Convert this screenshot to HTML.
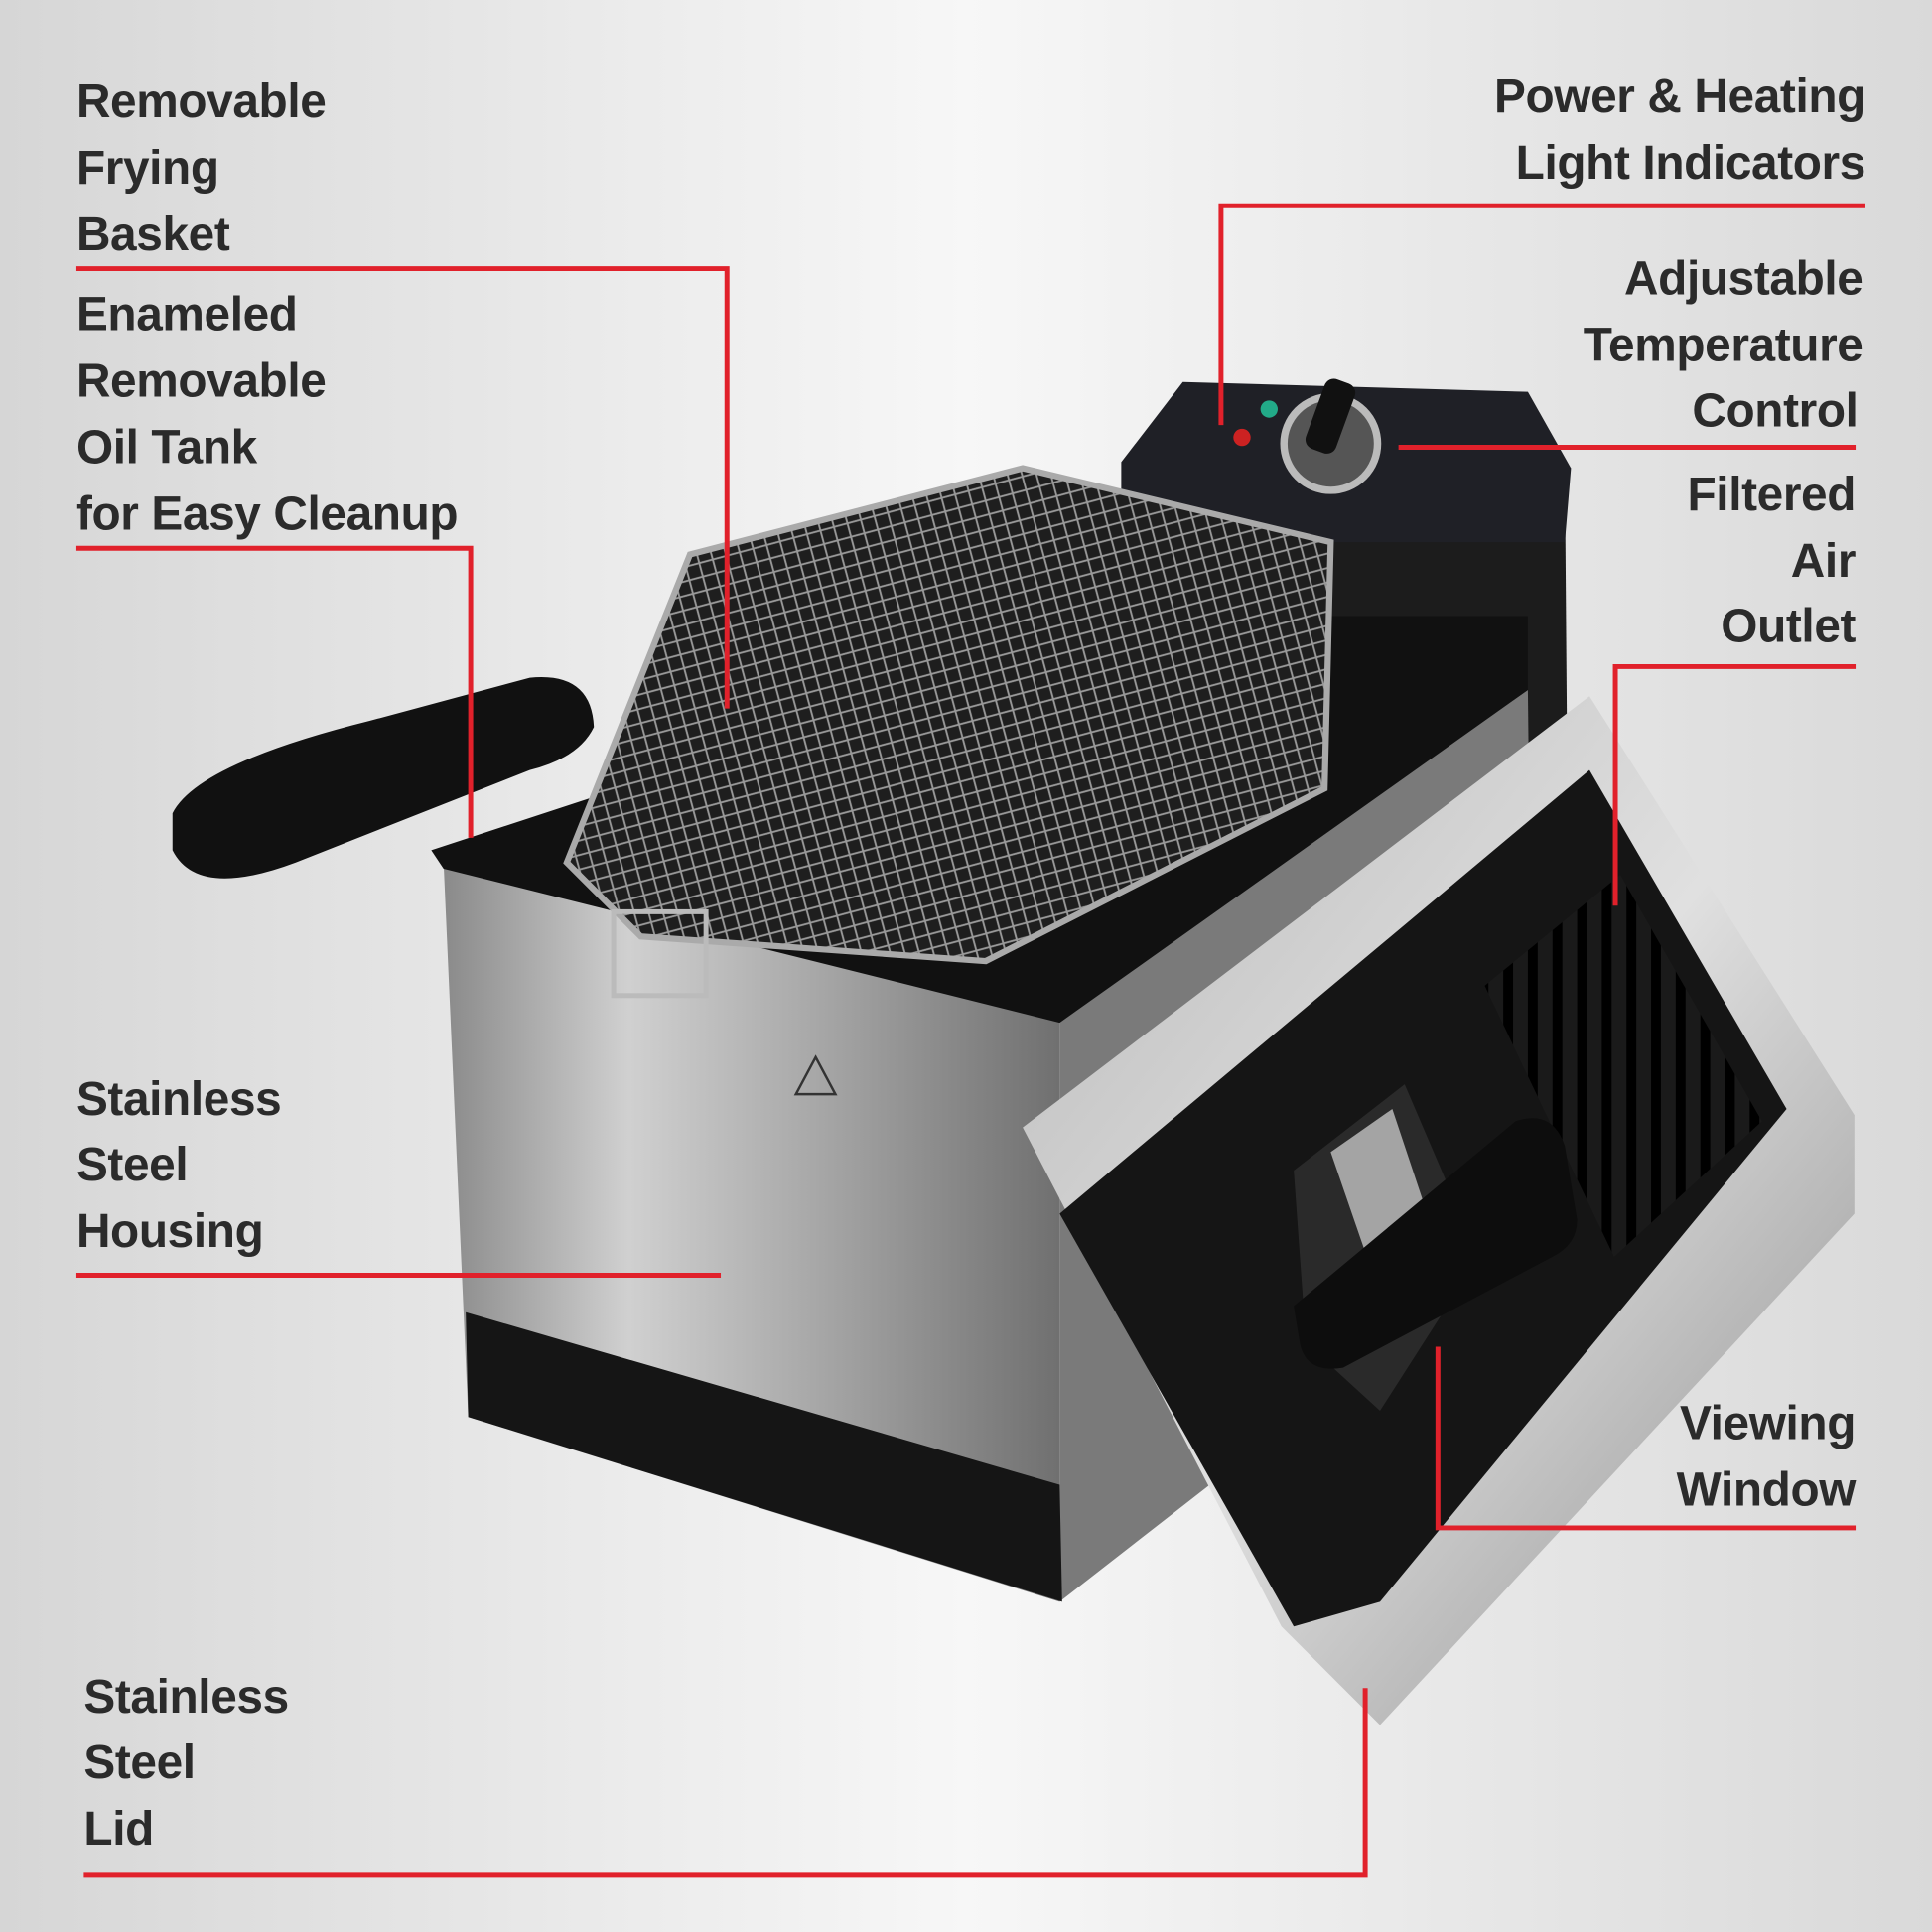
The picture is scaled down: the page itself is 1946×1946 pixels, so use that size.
<!DOCTYPE html>
<html><head><meta charset="utf-8">
<style>
html,body{margin:0;padding:0;width:1946px;height:1946px;overflow:hidden;background:#e6e6e6}
svg{display:block}
text{font-family:"Liberation Sans",sans-serif;font-weight:bold;font-size:38.5px;letter-spacing:-0.3px;fill:#2b2b2b}
</style></head><body>
<svg width="1946" height="1946" viewBox="0 0 1568 1568" xmlns="http://www.w3.org/2000/svg">
<defs>
<linearGradient id="bg" x1="0" y1="0" x2="1" y2="0">
<stop offset="0" stop-color="#d6d6d6"/><stop offset="0.5" stop-color="#f7f7f7"/><stop offset="1" stop-color="#d9d9d9"/>
</linearGradient>
<linearGradient id="steel" x1="0" y1="0" x2="1" y2="0">
<stop offset="0" stop-color="#8a8a8a"/><stop offset="0.3" stop-color="#d0d0d0"/><stop offset="0.6" stop-color="#a8a8a8"/><stop offset="1" stop-color="#707070"/>
</linearGradient>
<linearGradient id="steel2" x1="0" y1="0" x2="1" y2="1">
<stop offset="0" stop-color="#b8b8b8"/><stop offset="0.5" stop-color="#e0e0e0"/><stop offset="1" stop-color="#8c8c8c"/>
</linearGradient>
<pattern id="mesh" width="16" height="16" patternUnits="userSpaceOnUse" patternTransform="rotate(30)">
<rect width="16" height="16" fill="#1e1e1e"/>
<path d="M0 0L16 16M16 0L0 16" stroke="#999" stroke-width="1.5"/>
</pattern>
<pattern id="vent" width="20" height="10" patternUnits="userSpaceOnUse">
<rect width="20" height="10" fill="#1a1a1a"/><rect x="0" width="8" height="10" fill="#000"/>
</pattern>
</defs>
<rect width="1568" height="1568" fill="url(#bg)"/>

<polygon points="1080,440 1270,380 1275,1010 1000,1130" fill="#1c1c1c"/>
<polygon points="860,820 1240,560 1245,1000 860,1300" fill="#7a7a7a"/>
<polygon points="360,700 860,820 860,1300 380,1150" fill="url(#steel)"/>
<polygon points="378,1065 860,1205 862,1300 380,1150" fill="#151515"/>
<polygon points="350,690 930,500 1240,500 1240,560 860,830 360,705" fill="#111"/>
<polygon points="910,375 960,310 1240,318 1275,380 1270,440 1080,440 910,440" fill="#1f2026"/>
<circle cx="1080" cy="360" r="38" fill="#555" stroke="#bbb" stroke-width="6"/>
<rect x="1066" y="308" width="26" height="60" rx="8" fill="#111" transform="rotate(20 1080 340)"/>
<circle cx="1008" cy="355" r="7" fill="#c22"/><circle cx="1030" cy="332" r="7" fill="#2a8"/>
<polygon points="460,700 560,450 830,380 1080,440 1075,640 800,780 520,760" fill="url(#mesh)" stroke="#aaa" stroke-width="5"/>
<path d="M140,660 Q160,620 300,585 L430,550 Q480,545 482,590 Q470,615 430,625 L240,700 Q160,730 140,690 Z" fill="#111"/>
<rect x="498" y="740" width="75" height="68" fill="none" stroke="#bbb" stroke-width="4"/>
<polygon points="662,858 678,888 646,888" fill="none" stroke="#333" stroke-width="2"/>
<polygon points="830,915 1290,565 1505,905 1505,985 1120,1400 1040,1320" fill="url(#steel2)"/>
<polygon points="860,985 1290,625 1450,900 1120,1300 1050,1320" fill="#151515"/>
<polygon points="1205,800 1315,710 1430,910 1310,1020" fill="url(#vent)"/>
<polygon points="1050,950 1140,880 1200,1020 1120,1145 1060,1090" fill="#2a2a2a"/>
<polygon points="1080,935 1130,900 1170,1020 1130,1080" fill="#d8d8d8" opacity="0.7"/>
<path d="M1050,1060 L1230,910 Q1260,900 1270,930 L1280,990 Q1280,1010 1260,1020 L1090,1110 Q1060,1115 1055,1090 Z" fill="#0d0d0d"/>

<g stroke="#e1212b" stroke-width="4" fill="none">
<polyline points="62,218 590,218 590,575"/>
<polyline points="62,445 382,445 382,680"/>
<polyline points="62,1035 585,1035"/>
<polyline points="68,1522 1108,1522 1108,1370"/>
<polyline points="1514,167 991,167 991,345"/>
<polyline points="1506,363 1135,363"/>
<polyline points="1506,541 1311,541 1311,735"/>
<polyline points="1506,1240 1167,1240 1167,1093"/>
</g>

<text x="62" y="95">Removable</text>
<text x="62" y="149">Frying</text>
<text x="62" y="203">Basket</text>
<text x="62" y="268">Enameled</text>
<text x="62" y="322">Removable</text>
<text x="62" y="376">Oil Tank</text>
<text x="62" y="430">for Easy Cleanup</text>
<text x="62" y="905">Stainless</text>
<text x="62" y="958">Steel</text>
<text x="62" y="1012">Housing</text>
<text x="68" y="1390">Stainless</text>
<text x="68" y="1443">Steel</text>
<text x="68" y="1497">Lid</text>
<g text-anchor="end">
<text x="1514" y="91">Power &amp; Heating</text>
<text x="1514" y="145">Light Indicators</text>
<text x="1512" y="239">Adjustable</text>
<text x="1512" y="293">Temperature</text>
<text x="1508" y="346">Control</text>
<text x="1506" y="414">Filtered</text>
<text x="1506" y="468">Air</text>
<text x="1506" y="521">Outlet</text>
<text x="1506" y="1168">Viewing</text>
<text x="1506" y="1222">Window</text>
</g>
</svg>
</body></html>
